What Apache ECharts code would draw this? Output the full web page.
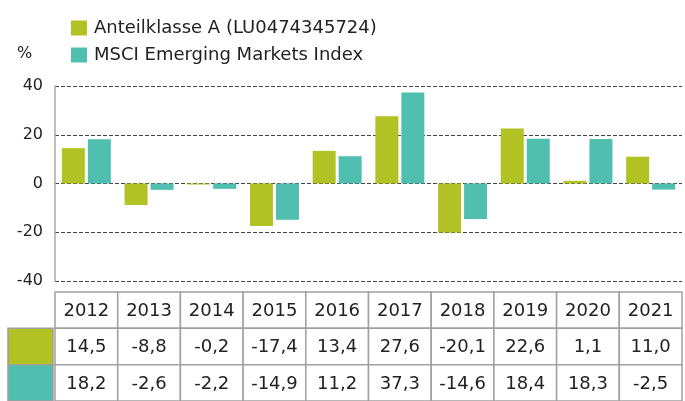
<!DOCTYPE html>
<html>
<head>
<meta charset="utf-8">
<script src="https://cdn.jsdelivr.net/npm/echarts@6/dist/echarts.min.js"></script>
<style>
  html, body { margin: 0; padding: 0; background: #fff; }
  #chart { width: 685px; height: 401px; }
</style>
</head>
<body>
<div id="chart"></div>
<script>
// data
const years = ['2012', '2013', '2014', '2015', '2016', '2017', '2018', '2019', '2020', '2021']
const fundValues = [14.5, -8.8, -0.2, -17.4, 13.4, 27.6, -20.1, 22.6, 1.1, 11.0]
const indexValues = [18.2, -2.6, -2.2, -14.9, 11.2, 37.3, -14.6, 18.4, 18.3, -2.5]
const seriesNames = ['Anteilklasse A (LU0474345724)', 'MSCI Emerging Markets Index']
const yTicks = [-40, -20, 0, 20, 40]

const colors = ['#b0c224', '#50bfaf']
const fontFamily = '"DejaVu Sans", sans-serif'
const textColor = '#222'
const borderColor = '#a0a0a0'

const fmt = v => v.toFixed(1).replace('.', ',')
const tableRows = [years, fundValues.map(fmt), indexValues.map(fmt)]

// one item per table cell: [column, row]
const tableCells = []
tableRows.forEach((row, r) => {
  row.forEach((_, c) => tableCells.push([c, r]))
})

const chart = echarts.init(document.getElementById('chart'))

chart.setOption({
  animation: false,
  color: colors,
  textStyle: { fontFamily: fontFamily },
  title: {
    text: '%',
    left: 12,
    top: 41,
    textStyle: { fontSize: 16, fontWeight: 'normal', color: textColor, fontFamily: fontFamily }
  },
  legend: {
    orient: 'vertical',
    left: 66,
    top: 14,
    itemWidth: 16,
    itemHeight: 15,
    itemGap: 9,
    icon: 'rect',
    data: seriesNames,
    textStyle: { fontSize: 18, color: textColor, fontFamily: fontFamily, padding: [0, 0, 0, 2] }
  },
  grid: [
    { left: 55, right: 3, top: 86, height: 195 },
    { left: 55, right: 3, top: 292, height: 109 }
  ],
  xAxis: [
    {
      gridIndex: 0,
      type: 'category',
      data: years,
      axisLine: { show: false },
      axisTick: { show: false },
      axisLabel: { show: false }
    },
    {
      gridIndex: 1,
      type: 'category',
      data: years,
      axisLine: { show: false },
      axisTick: { show: false },
      axisLabel: { show: false }
    }
  ],
  yAxis: [
    {
      gridIndex: 0,
      type: 'value',
      min: yTicks[0],
      max: yTicks[yTicks.length - 1],
      interval: 20,
      axisLine: { show: true, lineStyle: { color: '#aaa', width: 1.5 } },
      axisTick: { show: false },
      axisLabel: { fontSize: 16, color: textColor, margin: 12, fontFamily: fontFamily },
      splitLine: { lineStyle: { color: '#444', type: [4, 2], width: 1.2 } }
    },
    {
      gridIndex: 1,
      type: 'category',
      inverse: true,
      data: ['year', 'fund', 'index'],
      axisLine: { show: false },
      axisTick: { show: false },
      axisLabel: { show: false }
    }
  ],
  series: [
    {
      name: seriesNames[0],
      type: 'bar',
      data: fundValues,
      barWidth: 23,
      barGap: '13%',
      barMinHeight: 1,
      xAxisIndex: 0,
      yAxisIndex: 0
    },
    {
      name: seriesNames[1],
      type: 'bar',
      data: indexValues,
      barWidth: 23,
      barGap: '13%',
      barMinHeight: 1,
      xAxisIndex: 0,
      yAxisIndex: 0
    },
    {
      type: 'custom',
      xAxisIndex: 1,
      yAxisIndex: 1,
      clip: false,
      silent: true,
      data: tableCells,
      renderItem(params, api) {
        const col = api.value(0)
        const row = api.value(1)
        const center = api.coord([col, row])
        const size = api.size([1, 1])
        const x0 = center[0] - size[0] / 2
        const y0 = center[1] - size[1] / 2
        const children = [
          {
            type: 'rect',
            shape: { x: x0, y: y0, width: size[0], height: size[1] },
            style: { fill: '#fff', stroke: borderColor, lineWidth: 1.5 }
          },
          {
            type: 'text',
            style: {
              x: center[0],
              y: center[1] + 1,
              text: tableRows[row][col],
              align: 'center',
              verticalAlign: 'middle',
              fill: textColor,
              font: '18px ' + fontFamily
            }
          }
        ]
        // colour key cells left of the first column
        if (col === 0 && row > 0) {
          children.push({
            type: 'rect',
            shape: { x: 8, y: y0, width: x0 - 10, height: size[1] },
            style: { fill: colors[row - 1], stroke: borderColor, lineWidth: 1.5 }
          })
        }
        return { type: 'group', children: children }
      }
    }
  ]
})
</script>
</body>
</html>
